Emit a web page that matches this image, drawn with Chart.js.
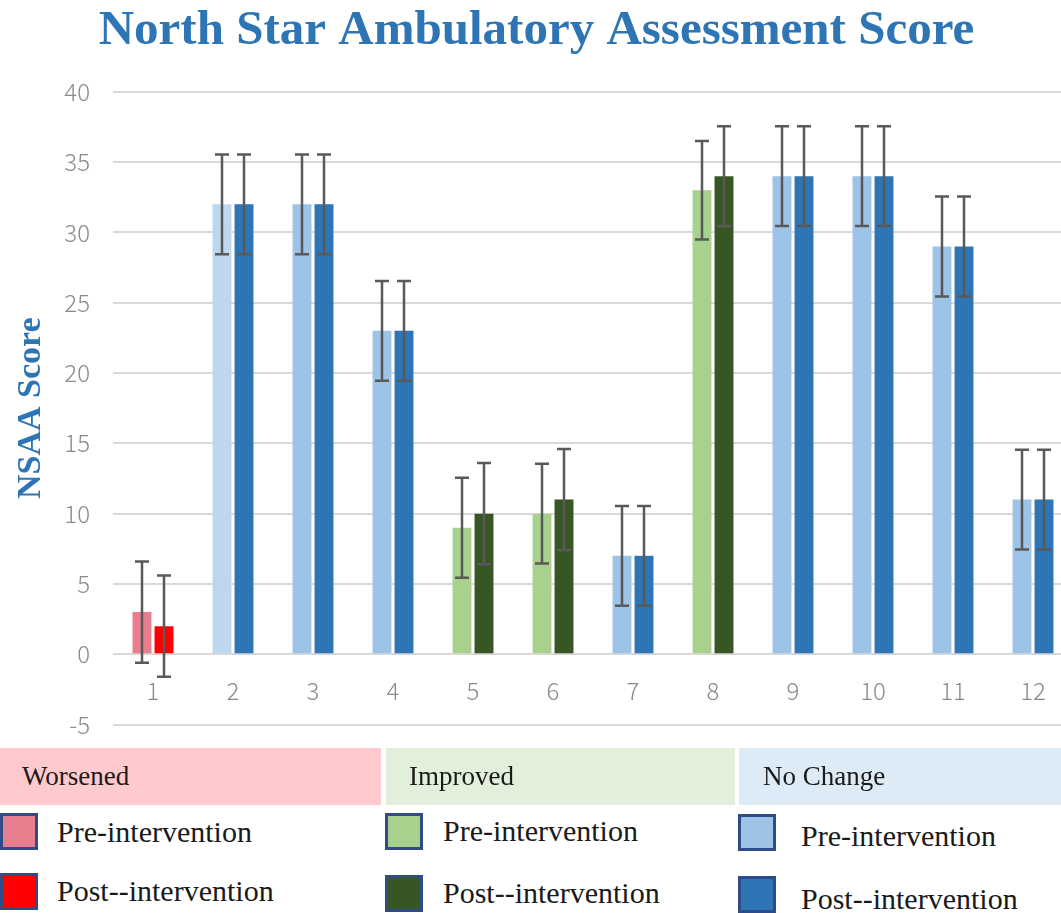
<!DOCTYPE html>
<html>
<head>
<meta charset="utf-8">
<script src="https://cdn.jsdelivr.net/npm/chart.js@4.4.1/dist/chart.umd.min.js"></script>
<style>
  html, body { margin: 0; padding: 0; background: #fff; overflow: hidden; }
  #wrap { position: relative; width: 1061px; height: 913px; overflow: hidden; background: #fff; }
  #chart { position: absolute; left: 0; top: 0; }
  .hdr { position: absolute; top: 748px; height: 57px; font-family: 'Liberation Serif', 'Times New Roman', serif; font-size: 27px; color: #1a1a1a; line-height: 57px; box-sizing: border-box; }
  .sw { position: absolute; width: 38px; height: 37px; box-sizing: border-box; border: 3px solid #2F4B88; }
  .lt { position: absolute; font-family: 'Liberation Serif', 'Times New Roman', serif; font-size: 30px; color: #1a1a1a; line-height: 36px; white-space: nowrap; }
</style>
</head>
<body>
<div id="wrap">
  <canvas id="chart" width="1075" height="762"></canvas>
  <div class="hdr" style="left:0;width:381px;background:#FFCACD;padding-left:22px;">Worsened</div>
  <div class="hdr" style="left:386px;width:349px;background:#E2EFDA;padding-left:23px;">Improved</div>
  <div class="hdr" style="left:739px;width:322px;background:#DDEBF7;padding-left:24px;">No Change</div>

  <div class="sw" style="left:0;top:813px;background:#E87D8E;"></div>
  <div class="lt" style="left:57px;top:814px;">Pre-intervention</div>
  <div class="sw" style="left:0;top:873px;background:#FF0000;"></div>
  <div class="lt" style="left:57px;top:873px;">Post--intervention</div>

  <div class="sw" style="left:385px;top:813px;background:#A9D18E;"></div>
  <div class="lt" style="left:443px;top:813px;">Pre-intervention</div>
  <div class="sw" style="left:385px;top:875px;background:#375623;"></div>
  <div class="lt" style="left:443px;top:875px;">Post--intervention</div>

  <div class="sw" style="left:738px;top:814px;background:#9DC3E6;"></div>
  <div class="lt" style="left:801px;top:818px;">Pre-intervention</div>
  <div class="sw" style="left:738px;top:876px;background:#2E75B6;"></div>
  <div class="lt" style="left:801px;top:881px;">Post--intervention</div>
</div>
<script>
// ---- data ----
const categories = ['1', '2', '3', '4', '5', '6', '7', '8', '9', '10', '11', '12'];
const outcomeGroups = ['Worsened', 'No Change', 'No Change', 'No Change', 'Improved', 'Improved',
                       'No Change', 'Improved', 'No Change', 'No Change', 'No Change', 'No Change'];
const preValues  = [3, 32, 32, 23, 9, 10, 7, 33, 34, 34, 29, 11];
const postValues = [2, 32, 32, 23, 10, 11, 7, 34, 34, 34, 29, 11];
const preErrors  = [3.6, 3.55, 3.55, 3.55, 3.55, 3.55, 3.55, 3.5, 3.55, 3.55, 3.55, 3.55];
const postErrors = [3.6, 3.55, 3.55, 3.55, 3.6, 3.6, 3.55, 3.55, 3.55, 3.55, 3.55, 3.55];
const yTicks = [-5, 0, 5, 10, 15, 20, 25, 30, 35, 40];

// ---- styles ----
const preColorMap  = { 'Worsened': '#E87D8E', 'Improved': '#A9D18E', 'No Change': '#9DC3E6' };
const postColorMap = { 'Worsened': '#FF0000', 'Improved': '#375623', 'No Change': '#2E75B6' };
const preColors = outcomeGroups.map(g => preColorMap[g]);
preColors[1] = '#BDD7EE';
const postColors = outcomeGroups.map(g => postColorMap[g]);

const errorBarPlugin = {
  id: 'errorBars',
  afterDatasetsDraw(chart) {
    const ctx = chart.ctx;
    const yScale = chart.scales.y;
    ctx.save();
    ctx.strokeStyle = '#595959';
    ctx.lineWidth = 2.5;
    chart.data.datasets.forEach((ds, di) => {
      const meta = chart.getDatasetMeta(di);
      meta.data.forEach((bar, i) => {
        const v = ds.data[i];
        const e = ds.errors[i];
        const yTop = yScale.getPixelForValue(v + e);
        const yBot = yScale.getPixelForValue(v - e);
        const x = bar.x;
        const cap = 7;
        ctx.beginPath();
        ctx.moveTo(x, yTop); ctx.lineTo(x, yBot);
        ctx.moveTo(x - cap, yTop); ctx.lineTo(x + cap, yTop);
        ctx.moveTo(x - cap, yBot); ctx.lineTo(x + cap, yBot);
        ctx.stroke();
      });
    });
    ctx.restore();
  }
};

const tickFont = { family: "'Noto Sans CJK JP', 'Noto Sans', sans-serif", size: 24, weight: '300' };

new Chart(document.getElementById('chart'), {
  type: 'bar',
  data: {
    labels: categories,
    datasets: [
      { label: 'Pre-intervention', data: preValues, errors: preErrors, backgroundColor: preColors,
        categoryPercentage: 0.55, barPercentage: 0.86 },
      { label: 'Post--intervention', data: postValues, errors: postErrors, backgroundColor: postColors,
        categoryPercentage: 0.55, barPercentage: 0.86 }
    ]
  },
  options: {
    responsive: false,
    animation: false,
    layout: { padding: { left: 0, right: 2, top: 0, bottom: 3 } },
    plugins: {
      legend: { display: false },
      tooltip: { enabled: false },
      title: {
        display: true,
        text: 'North Star Ambulatory Assessment Score',
        color: '#2E75B6',
        font: { family: "'Liberation Serif', 'Times New Roman', serif", size: 49, weight: 'bold' },
        padding: { top: 2, bottom: 31 }
      }
    },
    scales: {
      x: {
        position: { y: 0 },
        grid: { display: false },
        border: { display: false },
        ticks: { color: '#8A8A8A', font: tickFont, padding: 14, maxRotation: 0 }
      },
      y: {
        min: -5, max: 40,
        afterBuildTicks: s => { s.ticks = yTicks.map(v => ({ value: v })); },
        afterFit: s => { s.width = 113; },
        grid: { color: '#D9D9D9', lineWidth: 2, drawTicks: false },
        border: { display: false },
        ticks: { color: '#8A8A8A', font: tickFont, padding: 23 },
        title: {
          display: true,
          text: 'NSAA Score',
          color: '#2E75B6',
          font: { family: "'Liberation Serif', 'Times New Roman', serif", size: 34, weight: 'bold' },
          padding: { top: 11, bottom: 0 }
        }
      }
    }
  },
  plugins: [errorBarPlugin]
});
</script>
</body>
</html>
